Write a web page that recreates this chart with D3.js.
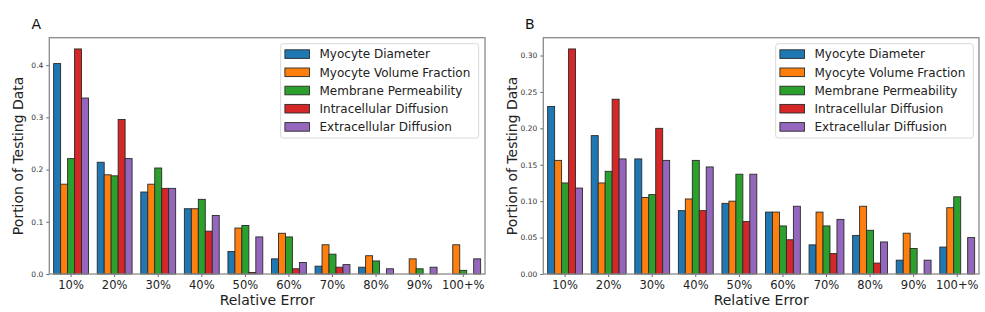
<!DOCTYPE html>
<html>
<head>
<meta charset="utf-8">
<script src="https://cdn.jsdelivr.net/npm/d3@7"></script>
<style>
  html, body { margin: 0; padding: 0; background: #fff; }
  svg { display: block; font-family: "DejaVu Sans", sans-serif; }
</style>
</head>
<body>
<svg id="chart" width="985" height="312"></svg>
<script>
// ---------- DATA ----------
const categories = ["10%", "20%", "30%", "40%", "50%", "60%", "70%", "80%", "90%", "100+%"];
const seriesNames = ["Myocyte Diameter", "Myocyte Volume Fraction", "Membrane Permeability", "Intracellular Diffusion", "Extracellular Diffusion"];
const seriesColors = ["#1f77b4", "#ff7f0e", "#2ca02c", "#d62728", "#9467bd"];

// Panel A
const aMyocyteDiameter        = [0.403, 0.214, 0.157, 0.125, 0.043, 0.029, 0.015, 0.013, 0.000, 0.000];
const aMyocyteVolumeFraction  = [0.172, 0.190, 0.172, 0.125, 0.088, 0.078, 0.056, 0.035, 0.029, 0.056];
const aMembranePermeability   = [0.221, 0.188, 0.203, 0.143, 0.093, 0.071, 0.038, 0.025, 0.010, 0.007];
const aIntracellularDiffusion = [0.431, 0.296, 0.164, 0.082, 0.003, 0.010, 0.013, 0.000, 0.000, 0.000];
const aExtracellularDiffusion = [0.337, 0.221, 0.164, 0.112, 0.071, 0.022, 0.018, 0.010, 0.013, 0.029];
const aYTicks = [0, 0.1, 0.2, 0.3, 0.4];

// Panel B
const bMyocyteDiameter        = [0.230, 0.190, 0.158, 0.087, 0.097, 0.085, 0.040, 0.053, 0.019, 0.037];
const bMyocyteVolumeFraction  = [0.156, 0.125, 0.105, 0.103, 0.100, 0.085, 0.085, 0.093, 0.056, 0.091];
const bMembranePermeability   = [0.125, 0.141, 0.109, 0.156, 0.137, 0.066, 0.066, 0.060, 0.035, 0.106];
const bIntracellularDiffusion = [0.309, 0.240, 0.200, 0.087, 0.072, 0.047, 0.028, 0.015, 0.000, 0.000];
const bExtracellularDiffusion = [0.118, 0.158, 0.156, 0.147, 0.137, 0.093, 0.075, 0.044, 0.019, 0.050];
const bYTicks = [0, 0.05, 0.10, 0.15, 0.20, 0.25, 0.30];

// ---------- DRAW ----------
const svg = d3.select("#chart");
svg.append("rect").attr("width", 985).attr("height", 312).attr("fill", "#fff");

function drawPanel(opts) {
  const { letter, left, right, top, bottom, series, yTicks, yFmt, legendX, legendW } = opts;
  const g = svg.append("g");
  const yMax = d3.max(series.flat()) * 1.05;

  const x0 = d3.scaleBand().domain(categories).range([left, right]).paddingInner(0.2).paddingOuter(0.1);
  const x1 = d3.scaleBand().domain(d3.range(seriesNames.length)).range([0, x0.bandwidth()]);
  const y = d3.scaleLinear().domain([0, yMax]).range([bottom, top]);

  // bars
  const rows = [];
  series.forEach((vals, si) => vals.forEach((v, ci) => rows.push({ si, cat: categories[ci], v })));
  g.append("g").selectAll("rect").data(rows).join("rect")
    .attr("x", d => x0(d.cat) + x1(d.si))
    .attr("y", d => y(d.v))
    .attr("width", x1.bandwidth())
    .attr("height", d => y(0) - y(d.v))
    .attr("fill", d => seriesColors[d.si])
    .attr("stroke", "#2a2a2a")
    .attr("stroke-width", 0.9);

  // y axis
  const yAxis = g.append("g").attr("transform", `translate(${left},0)`)
    .call(d3.axisLeft(y).tickValues(yTicks).tickFormat(d3.format(yFmt)).tickSize(3).tickPadding(3));
  yAxis.select(".domain").remove();
  yAxis.selectAll(".tick line").attr("stroke", "#666");
  yAxis.selectAll(".tick text").attr("fill", "#333").style("font-size", "7.5px").style("font-family", "DejaVu Sans");

  // x axis
  const xAxis = g.append("g").attr("transform", `translate(0,${bottom})`)
    .call(d3.axisBottom(x0).tickSize(3).tickPadding(4));
  xAxis.select(".domain").remove();
  xAxis.selectAll(".tick line").attr("stroke", "#666");
  xAxis.selectAll(".tick text").attr("fill", "#222").style("font-size", "11.5px").style("font-family", "DejaVu Sans");

  // spines
  g.append("rect").attr("x", left).attr("y", top).attr("width", right - left).attr("height", bottom - top)
    .attr("fill", "none").attr("stroke", "#8a8a8a").attr("stroke-width", 1.3);

  // labels
  g.append("text").attr("x", (left + right) / 2).attr("y", 305).attr("text-anchor", "middle")
    .style("font-size", "14px").attr("fill", "#222").text("Relative Error");
  g.append("text").attr("transform", `translate(${left - 31},${(top + bottom) / 2}) rotate(-90)`)
    .attr("text-anchor", "middle").attr("dy", "0.35em")
    .style("font-size", "14px").attr("fill", "#222").text("Portion of Testing Data");
  g.append("text").attr("x", opts.letterX).attr("y", 29)
    .style("font-size", "14px").attr("fill", "#111").text(letter);

  // legend
  const lg = g.append("g").attr("transform", `translate(${legendX},43.7)`);
  lg.append("rect").attr("width", legendW).attr("height", 94.3).attr("rx", 2.5)
    .attr("fill", "#fff").attr("fill-opacity", 0.85).attr("stroke", "#d8d8d8").attr("stroke-width", 1);
  seriesNames.forEach((name, i) => {
    const cy = 10.4 + 18.2 * i;
    lg.append("rect").attr("x", 4.2).attr("y", cy - 4.3).attr("width", 24.6).attr("height", 8.6)
      .attr("fill", seriesColors[i]).attr("stroke", "#2a2a2a").attr("stroke-width", 0.9);
    lg.append("text").attr("x", 38.8).attr("y", cy).attr("dy", "0.36em")
      .style("font-size", "12px").attr("fill", "#222").text(name);
  });
}

drawPanel({
  letter: "A", letterX: 31.5, left: 49.3, right: 485, top: 37.7, bottom: 274,
  series: [aMyocyteDiameter, aMyocyteVolumeFraction, aMembranePermeability, aIntracellularDiffusion, aExtracellularDiffusion],
  yTicks: aYTicks, yFmt: ".1f", legendX: 280.7, legendW: 198
});
drawPanel({
  letter: "B", letterX: 525, left: 543.3, right: 979, top: 37.7, bottom: 274,
  series: [bMyocyteDiameter, bMyocyteVolumeFraction, bMembranePermeability, bIntracellularDiffusion, bExtracellularDiffusion],
  yTicks: bYTicks, yFmt: ".2f", legendX: 775.7, legendW: 197.6
});
</script>
</body>
</html>
